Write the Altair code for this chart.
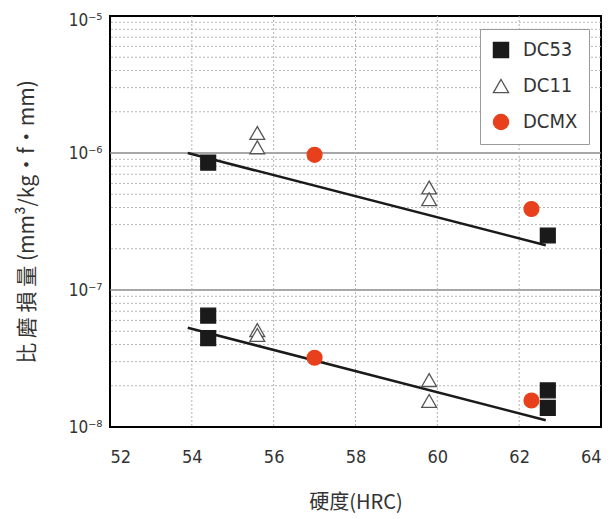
import altair as alt
import pandas as pd

series = ["DC53", "DC11", "DCMX"]

dc53_hrc = [54.4, 54.4, 54.4, 62.7, 62.7, 62.7]
dc53_wear = [8.5e-7, 6.5e-8, 4.45e-8, 2.5e-7, 1.85e-8, 1.38e-8]
dc11_hrc = [55.6, 55.6, 55.6, 55.6, 59.8, 59.8, 59.8, 59.8]
dc11_wear = [1.4e-6, 1.1e-6, 5.1e-8, 4.7e-8, 5.6e-7, 4.6e-7, 2.2e-8, 1.55e-8]
dcmx_hrc = [57.0, 57.0, 62.3, 62.3]
dcmx_wear = [9.7e-7, 3.2e-8, 3.9e-7, 1.56e-8]

fit_hrc = [53.9, 62.65]
fit_upper = [1.0e-6, 2.12e-7]
fit_lower = [5.3e-8, 1.12e-8]

x_ticks = [52, 54, 56, 58, 60, 62, 64]
x_grid = [54, 56, 58, 60, 62]
decades = [1e-8, 1e-7, 1e-6, 1e-5]
decade_grid = [1e-7, 1e-6]
minor_grid = [2e-8, 3e-8, 4e-8, 5e-8, 6e-8, 7e-8, 8e-8, 9e-8,
              2e-7, 3e-7, 4e-7, 5e-7, 6e-7, 7e-7, 8e-7, 9e-7,
              2e-6, 3e-6, 4e-6, 5e-6, 6e-6, 7e-6, 8e-6, 9e-6]

pts = pd.DataFrame({
    "hrc": dc53_hrc + dc11_hrc + dcmx_hrc,
    "wear": dc53_wear + dc11_wear + dcmx_wear,
    "series": ["DC53"] * len(dc53_hrc) + ["DC11"] * len(dc11_hrc) + ["DCMX"] * len(dcmx_hrc),
})
fits = pd.DataFrame({
    "hrc": fit_hrc + fit_hrc,
    "wear": fit_upper + fit_lower,
    "grp": ["u", "u", "l", "l"],
})

FONT = "Liberation Sans Narrow, DejaVu Sans Condensed, Roboto, sans-serif"
CJK = "Noto Sans CJK TC"
TXT = "#333333"

xs = alt.Scale(domain=[52, 64], nice=False, zero=False)
ys = alt.Scale(type="log", domain=[1e-8, 1e-5], nice=False)

xaxis = alt.Axis(values=x_ticks, title="硬度(HRC)", grid=False, ticks=False,
                 domain=False, labelFontSize=18, labelPadding=21,
                 titleFontSize=20, titlePadding=26, titleFont=CJK,
                 titleFontWeight="normal")
yaxis = alt.Axis(values=decades, title="比 磨 損 量 (mm³/kg•f•mm)", grid=False,
                 ticks=False, domain=False, labelFontSize=17, labelPadding=8,
                 labelExpr="'10' + (datum.value < 5e-8 ? '⁻⁸' : datum.value < 5e-7 ? '⁻⁷' : datum.value < 5e-6 ? '⁻⁶' : '⁻⁵')",
                 labelBaseline={"condition": {"test": "datum.value > 5e-6", "value": "top"}, "value": "middle"},
                 labelOffset={"condition": {"test": "datum.value > 5e-6", "value": -4}, "value": 0},
                 titleFontSize=21, titlePadding=31, titleFont=CJK,
                 titleFontWeight="normal")

minor = alt.Chart(pd.DataFrame({"v": minor_grid})).mark_rule(
    color="#b5b5b5", strokeWidth=1, strokeDash=[2, 2]
).encode(y=alt.Y("v:Q", scale=ys, axis=yaxis))

major = alt.Chart(pd.DataFrame({"v": decade_grid})).mark_rule(
    color="#8a8a8a", strokeWidth=1.6
).encode(y=alt.Y("v:Q", scale=ys, axis=yaxis))

vgrid = alt.Chart(pd.DataFrame({"v": x_grid})).mark_rule(
    color="#b0b0b0", strokeWidth=1, strokeDash=[2, 2]
).encode(x=alt.X("v:Q", scale=xs, axis=xaxis))

lines = alt.Chart(fits).mark_line(color="#1a1a1a", strokeWidth=2.5).encode(
    x=alt.X("hrc:Q", scale=xs, axis=xaxis),
    y=alt.Y("wear:Q", scale=ys, axis=yaxis),
    detail="grp:N",
)

points = alt.Chart(pts).mark_point(opacity=1, strokeWidth=1.3, size=220).encode(
    x=alt.X("hrc:Q", scale=xs, axis=xaxis),
    y=alt.Y("wear:Q", scale=ys, axis=yaxis),
    shape=alt.Shape("series:N", scale=alt.Scale(domain=series, range=["square", "triangle-up", "circle"]),
                    legend=alt.Legend(title=None)),
    fill=alt.Fill("series:N", scale=alt.Scale(domain=series, range=["#1a1a1a", "#ffffff", "#e8401c"]),
                  legend=alt.Legend(title=None)),
    stroke=alt.Stroke("series:N", scale=alt.Scale(domain=series, range=["#1a1a1a", "#555555", "#e8401c"]),
                      legend=alt.Legend(title=None)),
)

chart = alt.layer(minor, major, vgrid, lines, points).properties(
    width=491, height=411,
    autosize=alt.AutoSizeParams(type="none"),
    padding={"left": 102, "top": 8, "right": 5, "bottom": 90},
).configure_view(
    stroke="black", strokeWidth=2
).configure_axis(
    labelFont=FONT, labelColor=TXT, titleColor=TXT
).configure_legend(
    orient="none", legendX=370, legendY=13,
    strokeColor="#9a9a9a", fillColor="white", padding=11,
    labelFont=FONT, labelFontSize=20, labelColor=TXT,
    symbolSize=230, symbolStrokeWidth=1.3, rowPadding=15, labelOffset=12,
)

chart.save("out.html", embed_options={"renderer": "svg", "actions": False})
